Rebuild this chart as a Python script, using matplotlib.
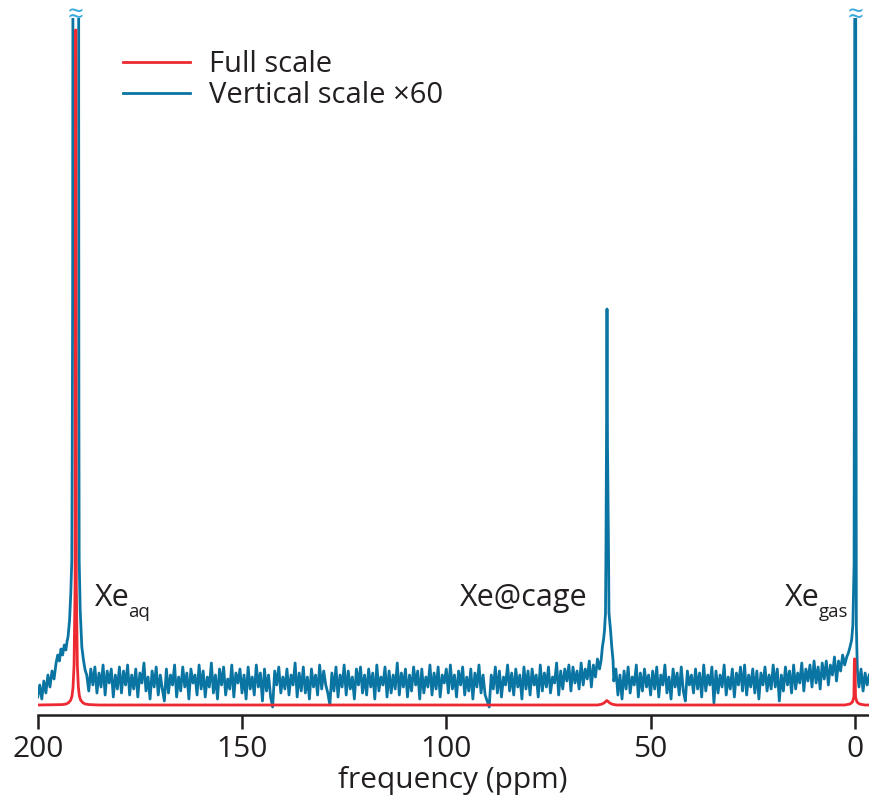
import numpy as np
import matplotlib
matplotlib.use("Agg")
import matplotlib.pyplot as plt

plt.rcParams['font.family'] = ['Open Sans', 'DejaVu Sans']

# blue trace (x60): baseline noise on a 0.5 ppm grid starting at 200 ppm
blue_noise = [
    8, 20, 6, 24, 12, 30, 18, 34, 26,
    40, 46, 44, 52, 50, 58, 62, 70, 70, 62, 56, 48, 42, 38, 32,
    30, 14, 36, 20, 38, 12, 32, 18, 40, 10, 34, 22, 36, 8, 30, 16, 38,
    12, 34, 20, 40, 10, 30, 16, 36, 8, 32, 22, 42, 14, 28, 6, 34, 18, 38, 10, 30,
    16, 4, 36, 12, 30, 20, 40, 8, 28, 14, 38, 18, 32, 6, 36, 22, 30, 10, 40, 16,
    34, 8, 28, 18, 42, 12, 30, 6, 36, 20, 38, 10, 26, 16, 40, 8, 32, 22, 36, 12,
    30, 6, 38, 16, 28, 10, 40, 18, 32, 4, 36, 14, 30, 8, -2, 34, 20, 38, 12, 28,
    16, 36, 10, 30, 20, 42, 8, 32, 14, 38, 12, 28, 6, 36, 18, 30, 10, 40, 16, 34,
    20, 12, 0, 32, 14, 38, 8, 30, 18, 40, 10, 34, 16, 28, 6, 36, 20, 38, 12, 30,
    10, 36, 18, 32, 6, 40, 14, 28, 20, 38, 8, 34, 12, 30, 16, 42, 10, 32, 18, 36,
    8, 30, 14, 38, 20, 34, 6, 36, 12, 28, 18, 40, 10, 32, 16, 38, 8, 30, 22, 36,
    12, 40, 16, 30, 8, 34, 20, 38, 10, 28, 14, 36, 6, 32, 18, 40, 12, 30, 10, 4,
    -2, 30, 16, 38, 12, 34, 8, 28, 20, 40, 14, 32, 10, 36, 18, 30, 6, 38, 16, 34,
    10, 36, 20, 30, 8, 40, 14, 32, 18, 38, 12, 28, 22, 42, 10, 34, 16, 36, 24, 40,
    14, 38, 22, 34, 16, 42, 20, 36, 26, 44, 18, 40, 28, 46, 36,
    40, 50, 60, 60, 50, 40,
    24, 36, 10, 30, 6, 34, 16, 38, 12, 28, 20, 40, 8, 32, 14, 36, 18, 30, 10,
    34, 16, 38, 8, 30, 20, 40, 12, 28, 6, 36, 18, 32, 10, 38, 14, 4, 34, 20, 30,
    12, 36, 16, 32, 8, 40, 14, 30, 20, 38, 2, 34, 12, 30, 18, 40, 10, 28, 16, 36,
    8, 32, 20, 38, 14, 40, 10, 30, 18, 36, 12, 34, 6, 32, 20, 38, 14, 30, 16, 40,
    18, 36, 4, 30, 14, 38, 20, 34, 12, 40, 16, 32, 22, 42, 14, 36, 24, 40, 18, 44,
    22, 38, 16, 42, 26, 44, 20, 40, 30, 48, 24, 44, 34, 50, 40,
    50, 55, 60, 60, 50, 40,
    18, 36, 14, 32, 20, 30,
]

# blue peaks (replace the noise inside their ppm range)
aq_ppm = [195.5, 195.1, 194.7, 194.3, 193.9, 193.5, 193.1, 192.8, 192.58, 192.2,
          191.9, 191.65, 191.55, 191.45, 191.38, 191.35, 190.0, 189.97, 189.92,
          189.85, 189.6, 189.2, 188.8, 188.4]
aq_int = [42, 50, 44, 56, 50, 60, 55, 64, 68, 85,
          112, 145, 250, 400, 650, 3000, 3000, 600, 300,
          145, 95, 58, 45, 35]

cage_ppm = [62.1, 61.8, 61.5, 61.28, 61.04, 60.92, 60.8, 60.67, 60.55, 60.31,
            60.19, 59.81, 59.5, 59.2]
cage_int = [45, 58, 66, 75, 92, 158, 260, 396, 260, 158,
            92, 75, 58, 45]

gas_ppm = [2.0, 1.6, 1.2, 0.8, 0.5, 0.2, 0.05, -0.05, -0.12, -0.2, -0.35, -0.6]
gas_int = [48, 52, 58, 65, 80, 140, 600, 3000, 3000, 600, 80, 35]

# red trace (full scale)
red_ppm = [200, 194, 193, 192.4, 191.9, 191.6, 191.35, 191.1, 190.85, 190.75,
           190.65, 190.55, 190.3, 190.05, 189.8, 189.5, 189.0, 188.4, 187.4, 185,
           63, 62, 61.4, 61.0, 60.7, 60.4, 60.0, 59.4, 58.4,
           2.5, 1.2, 0.6, 0.25, 0.12, -0.02, -0.15, -0.5, -1.1, -2.4, -3.5]
red_int = [0, 0.4, 1, 2.5, 5, 9, 18, 40, 120, 675,
           675, 120, 40, 18, 9, 5, 2.5, 1, 0.4, 0,
           0, 0.8, 2, 3.5, 4.5, 3.5, 2, 0.8, 0,
           0, 1, 3, 8, 46, 46, 8, 3, 1, 0, 0]

ticks = [200, 150, 100, 50, 0]
peak_labels = ['Xe', 'Xe@cage', 'Xe']
peak_subs = ['aq', '', 'gas']
label_ppm = [186.0, 96.65, 17.1]
sub_ppm = [177.9, None, 8.8]
break_ppm = [190.7, -0.1]

blue_c = '#0a74a2'
red_c = '#ed2a31'
ink = '#231f20'

grid = 200 - 0.5 * np.arange(len(blue_noise))
noise = np.array(blue_noise, dtype=float)
keep = np.ones(len(grid), dtype=bool)
bx = [grid]
by = [noise]
for px, py in [(aq_ppm, aq_int), (cage_ppm, cage_int), (gas_ppm, gas_int)]:
    keep &= ~((grid <= max(px) + 0.05) & (grid >= min(px) - 0.05))
    bx.append(np.array(px))
    by.append(np.array(py, dtype=float))
bx[0] = grid[keep]
by[0] = noise[keep]
bx = np.concatenate(bx)
by = np.concatenate(by)
order = np.argsort(-bx, kind='stable')
bx, by = bx[order], by[order]

fig = plt.figure(figsize=(8.69, 7.96), dpi=100)
ax = fig.add_axes([37.7 / 869, 81 / 796, 1 - 37.7 / 869, 697 / 796])

ax.plot(bx, by, color=blue_c, lw=2.0, zorder=2, label='Vertical scale \u00d760')
ax.plot(red_ppm, red_int, color=red_c, lw=2.0, zorder=3, label='Full scale')

ax.set_xlim(200, -3.45)
ax.set_ylim(-10, 687)

for s in ['top', 'right', 'left']:
    ax.spines[s].set_visible(False)
ax.spines['bottom'].set_linewidth(1.8)
ax.spines['bottom'].set_color(ink)
ax.set_yticks([])
ax.set_xticks(ticks)
ax.set_xticklabels([str(t) for t in ticks])
ax.tick_params(axis='x', direction='out', length=10, width=1.8, color=ink,
               labelsize=21.5, labelcolor=ink, pad=4.7)

fig.text(452.5 / 869, 8 / 796, 'frequency (ppm)', ha='center', va='baseline',
         fontsize=21.5, color=ink)

for name, sub, xp, sp in zip(peak_labels, peak_subs, label_ppm, sub_ppm):
    ax.text(xp, 99, name, ha='left', va='baseline', fontsize=22, color=ink)
    if sub:
        ax.text(sp, 88, sub, ha='left', va='baseline', fontsize=13.5, color=ink)

for bp in break_ppm:
    ax.text(bp, 689, '\u2248', ha='center', va='center', fontsize=20,
            color='#38a9dc', clip_on=False, zorder=5)

h, l = ax.get_legend_handles_labels()
ax.legend(h[::-1], l[::-1], loc='upper left', bbox_to_anchor=(123 / 869, 1 - 50 / 796),
          bbox_transform=fig.transFigure, frameon=False, fontsize=21,
          handlelength=2.3, handletextpad=0.65, labelspacing=0.08,
          borderpad=0, borderaxespad=0, labelcolor=ink)

fig.savefig('out.png', dpi=100)
